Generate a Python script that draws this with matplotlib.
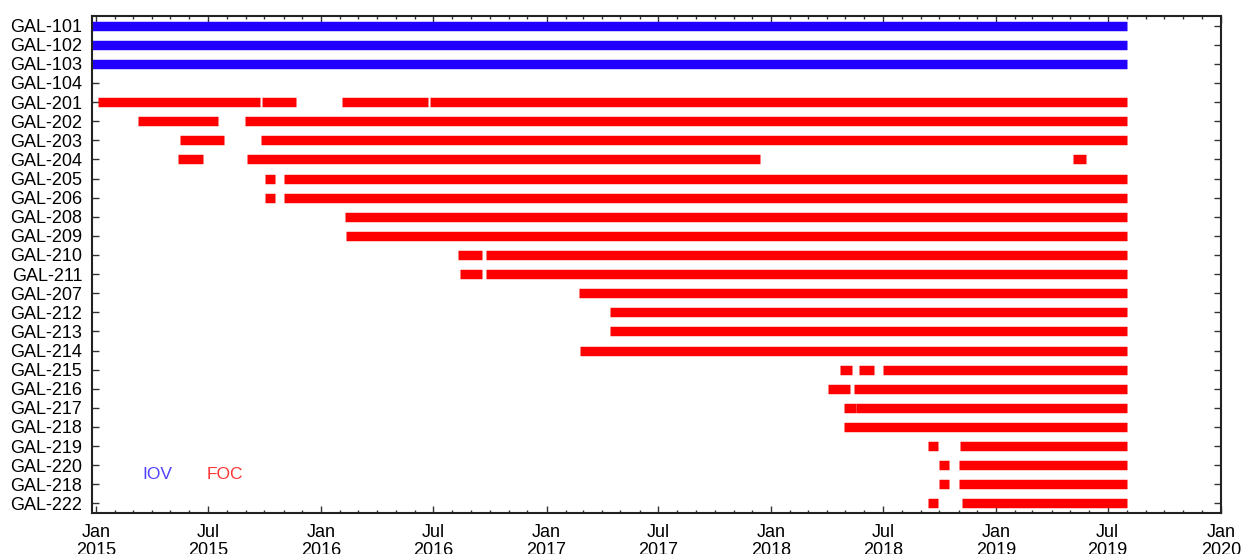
'''
Galileo satellite availability timeline (IOV / FOC)
'''
import matplotlib
matplotlib.use("Agg")
import matplotlib.pyplot as plt
import matplotlib.dates as mdates
import numpy as np

plt.rcParams['font.family'] = ['Liberation Sans', 'DejaVu Sans']

# satellite labels, top to bottom
sats = ['GAL-101', 'GAL-102', 'GAL-103', 'GAL-104', 'GAL-201', 'GAL-202',
        'GAL-203', 'GAL-204', 'GAL-205', 'GAL-206', 'GAL-208', 'GAL-209',
        'GAL-210', 'GAL-211', 'GAL-207', 'GAL-212', 'GAL-213', 'GAL-214',
        'GAL-215', 'GAL-216', 'GAL-217', 'GAL-218', 'GAL-219', 'GAL-220',
        'GAL-218', 'GAL-222']

# satellite block: IOV or FOC
blocks = ['IOV', 'IOV', 'IOV', 'IOV'] + ['FOC'] * 22

END = '2019-08-01'

# available periods (start, end) for each row
periods = [
    [('2014-12-01', END)],
    [('2014-12-01', END)],
    [('2014-12-01', END)],
    [],
    [('2015-01-03', '2015-09-24'), ('2015-09-27', '2015-11-21'),
     ('2016-02-04', '2016-06-22'), ('2016-06-25', END)],
    [('2015-03-10', '2015-07-17'), ('2015-08-31', END)],
    [('2015-05-17', '2015-07-28'), ('2015-09-25', END)],
    [('2015-05-14', '2015-06-23'), ('2015-09-02', '2017-12-14'),
     ('2019-05-06', '2019-05-27')],
    [('2015-10-02', '2015-10-18'), ('2015-11-01', END)],
    [('2015-10-02', '2015-10-18'), ('2015-11-01', END)],
    [('2016-02-09', END)],
    [('2016-02-10', END)],
    [('2016-08-10', '2016-09-18'), ('2016-09-25', END)],
    [('2016-08-13', '2016-09-18'), ('2016-09-25', END)],
    [('2017-02-23', END)],
    [('2017-04-14', END)],
    [('2017-04-14', END)],
    [('2017-02-24', END)],
    [('2018-04-22', '2018-05-12'), ('2018-05-24', '2018-06-16'),
     ('2018-07-02', END)],
    [('2018-04-03', '2018-05-09'), ('2018-05-16', END)],
    [('2018-04-29', '2018-05-18'), ('2018-05-19', END)],
    [('2018-04-29', END)],
    [('2018-09-12', '2018-09-28'), ('2018-11-04', END)],
    [('2018-09-30', '2018-10-16'), ('2018-11-01', END)],
    [('2018-09-30', '2018-10-16'), ('2018-11-02', END)],
    [('2018-09-13', '2018-09-28'), ('2018-11-06', END)],
]

colors = {'IOV': '#2200ff', 'FOC': '#ff0000'}

fig = plt.figure(figsize=(12.42, 5.54), dpi=100)
ax = fig.add_axes([0.0741, 0.074, 0.9089, 0.897])

for i, segs in enumerate(periods):
    for start, end in segs:
        ax.hlines(i, np.datetime64(start), np.datetime64(end),
                  color=colors[blocks[i]], linewidth=6.8)

ax.set_ylim(len(sats) - 0.5, -0.5)
ax.set_yticks(range(len(sats)))
ax.set_yticklabels(sats)
ax.set_xlim(np.datetime64('2014-12-25'), np.datetime64('2020-01-01'))

ax.xaxis.set_major_locator(mdates.MonthLocator(bymonth=[1, 7]))
ax.xaxis.set_minor_locator(mdates.MonthLocator())
ax.xaxis.set_major_formatter(mdates.DateFormatter('%b\n%Y'))

ax.tick_params(axis='both', which='both', direction='in',
               top=True, right=True, labelsize=13, color='#333333')
ax.tick_params(axis='y', which='major', length=5, width=1, pad=7)
ax.tick_params(axis='x', which='major', length=5, width=1, pad=8)
ax.tick_params(axis='x', which='minor', length=2.5, width=1)
for lab in ax.get_xticklabels():
    lab.set_linespacing(1.05)

for sp in ax.spines.values():
    sp.set_linewidth(1.5)
    sp.set_color('#222222')

ax.text(np.datetime64('2015-04-10'), 23.5, 'IOV', color='#5040ff',
        fontsize=12.5, ha='center', va='center')
ax.text(np.datetime64('2015-07-28'), 23.5, 'FOC', color='#ff3535',
        fontsize=12.5, ha='center', va='center')

fig.savefig('out.png', dpi=100)
